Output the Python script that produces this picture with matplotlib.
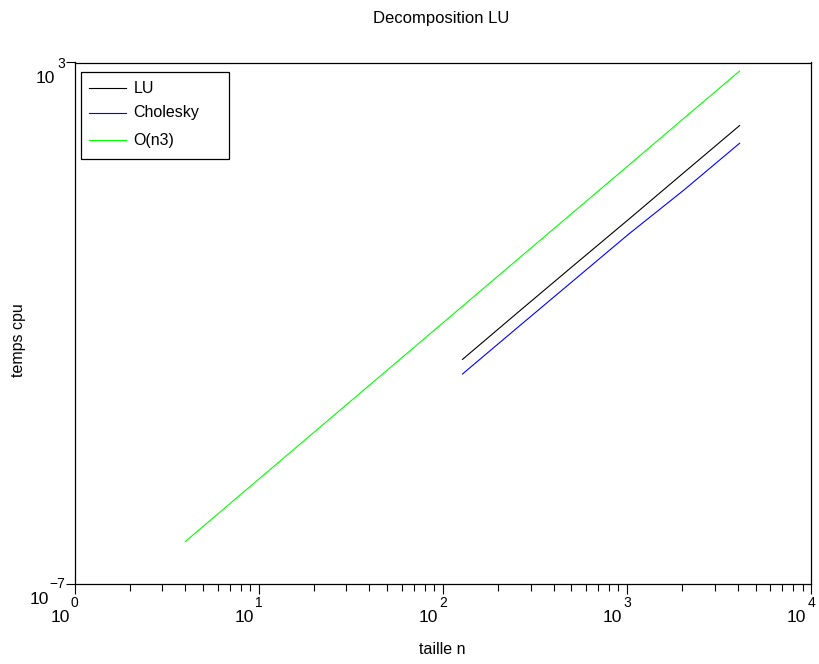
"""
Decomposition LU: temps cpu vs taille n (log-log), Scilab-like look
"""

import matplotlib
matplotlib.use('Agg')
import matplotlib.pyplot as plt
from matplotlib.ticker import FixedLocator, LogLocator, NullLocator
from matplotlib.patches import Rectangle
from matplotlib.lines import Line2D
from matplotlib.transforms import offset_copy

plt.rcParams['font.family'] = ['Liberation Sans', 'DejaVu Sans']

# data
n_fact = [128, 256, 512, 1024, 2048, 4096]
t_lu = [0.0020, 0.0160, 0.126, 0.98, 7.8, 61.7]
t_chol = [0.00105, 0.0083, 0.065, 0.51, 3.6, 28.2]
n_ref = [4, 8, 16, 32, 64, 128, 256, 512, 1024, 2048, 4096]
t_ref = [6.4e-7, 5.12e-6, 4.10e-5, 3.28e-4, 2.62e-3, 2.10e-2,
         0.168, 1.34, 10.7, 85.9, 687.0]

labels = ['LU', 'Cholesky', 'O(n3)']
colors = ['#000000', '#0000ff', '#00ff00']

x_exps = ['0', '1', '2', '3', '4']
y_exps = ['\u22127', '3']

TXT = 11.5   # axis labels, legend
BASE = 12.5  # the "10" of tick labels
EXP = 10     # tick label exponents

W, H = 819, 664
fig = plt.figure(figsize=(W / 100, H / 100), dpi=100)

left, right, top, bottom = 74.5, 811, 62.5, 583.5
ax = fig.add_axes([left / W, (H - bottom) / H, (right - left) / W, (bottom - top) / H])

ax.plot(n_fact, t_lu, color=colors[0], lw=0.8)
ax.plot(n_fact, t_chol, color=colors[1], lw=0.8)
ax.plot(n_ref, t_ref, color=colors[2], lw=0.8)

xdec = [10.0 ** int(e) for e in x_exps]
ydec = [10.0 ** int(e.replace('\u2212', '-')) for e in y_exps]

ax.set_xscale('log')
ax.set_yscale('log')
ax.set_xlim(xdec[0], xdec[-1])
ax.set_ylim(ydec[0], ydec[-1])

ax.xaxis.set_major_locator(FixedLocator(xdec))
ax.xaxis.set_minor_locator(LogLocator(base=10, subs=range(2, 10), numticks=50))
ax.yaxis.set_major_locator(FixedLocator(ydec))
ax.yaxis.set_minor_locator(NullLocator())
ax.tick_params(which='both', direction='out', top=False, right=False,
               labelbottom=False, labelleft=False, color='black', width=0.8)
ax.tick_params(axis='x', which='major', length=7.2)
ax.tick_params(axis='x', which='minor', length=5)
ax.tick_params(axis='y', which='major', length=6.5)
for sp in ax.spines.values():
    sp.set_linewidth(0.9)

# scilab style tick labels: "10" with a detached exponent
xt = ax.get_xaxis_transform()
for v, e in zip(xdec, x_exps):
    ex = ax.text(v, 0, e, fontsize=EXP, ha='center', va='center',
                 transform=offset_copy(xt, fig, x=0, y=-19.5, units='dots'))
    ax.annotate('10', xy=(0, 0.5), xycoords=ex, xytext=(-1, -14.7),
                textcoords='offset pixels', fontsize=BASE, ha='right', va='center')

yt = ax.get_yaxis_transform()
for v, e in zip(ydec, y_exps):
    ey = ax.text(0, v, e, fontsize=EXP, ha='right', va='center',
                 transform=offset_copy(yt, fig, x=-9.5, y=-1, units='dots'))
    gap = 0 if e.startswith('\u2212') else -2
    ax.annotate('10', xy=(0, 0.5), xycoords=ey, xytext=(gap, -15),
                textcoords='offset pixels', fontsize=BASE, ha='right', va='center')

# legend box drawn by hand to get the scilab proportions
def px(x, y):
    return ((x - left) / (right - left), (bottom - y) / (bottom - top))

x0, y0 = px(81.3, 159)
x1, y1 = px(228.7, 72.3)
ax.add_patch(Rectangle((x0, y0), x1 - x0, y1 - y0, transform=ax.transAxes,
                       fill=True, facecolor='white', edgecolor='black', lw=0.9, zorder=5))
for lab, col, yy in zip(labels, colors, [88.3, 112.7, 140]):
    a, b = px(89.3, yy)
    c, _ = px(125.7, yy)
    ax.add_line(Line2D([a, c], [b, b], transform=ax.transAxes, color=col, lw=0.8, zorder=6))
    tx, _ = px(133.3, yy)
    ax.text(tx, b, lab, transform=ax.transAxes, fontsize=TXT, ha='left', va='center', zorder=6)

fig.text(441 / W, (H - 23.5) / H, 'Decomposition LU', fontsize=12, ha='center', va='baseline')
fig.text(442.5 / W, (H - 654.5) / H, 'taille n', fontsize=TXT, ha='center', va='baseline')
fig.text(19 / W, (H - 340) / H, 'temps cpu', fontsize=TXT, ha='center', va='center', rotation=90)

fig.savefig('out.png', dpi=100)
